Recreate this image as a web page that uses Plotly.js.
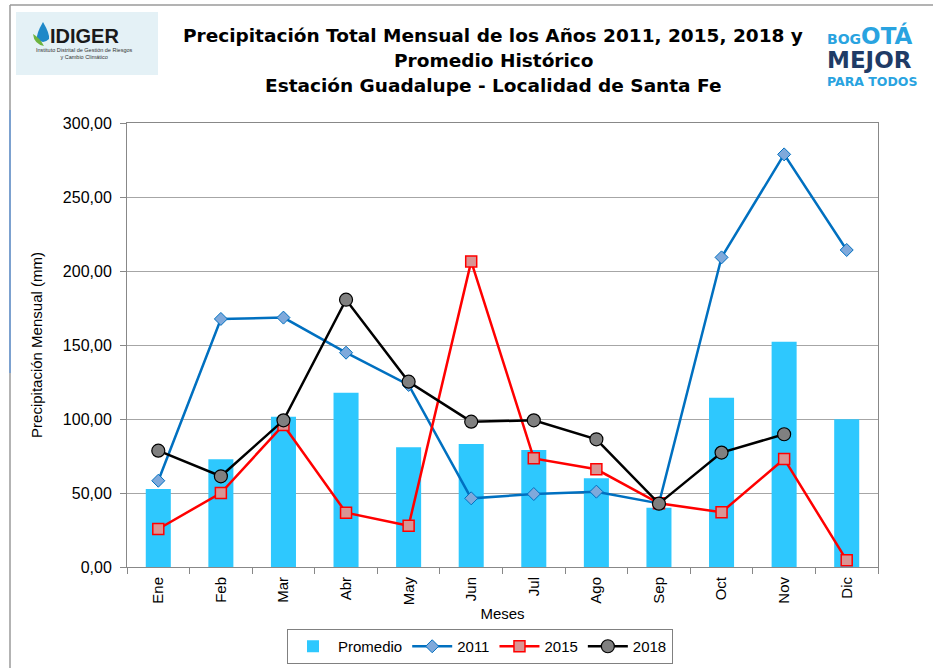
<!DOCTYPE html>
<html>
<head>
<meta charset="utf-8">
<script src="https://cdn.plot.ly/plotly-3.0.1.min.js"></script>
<style>html,body{margin:0;padding:0;background:#fff;}#chart{width:933px;height:668px;}</style>
</head>
<body>
<div id="chart"></div>
<script>
const months = ["Ene","Feb","Mar","Abr","May","Jun","Jul","Ago","Sep","Oct","Nov","Dic"];
const promedio = [52.7, 72.8, 101.6, 117.8, 80.9, 83.1, 79.1, 59.9, 40.1, 114.4, 152.2, 99.8];
const y2011 = [58.3, 167.6, 168.5, 144.8, 123.0, 46.4, 49.3, 50.9, 43.0, 209.2, 278.8, 214.2];
const y2015 = [25.7, 50.0, 96.0, 36.7, 27.9, 206.5, 73.4, 66.0, 43.0, 37.0, 73.0, 4.5];
const y2018 = [78.6, 61.3, 99.1, 180.6, 125.2, 98.2, 99.1, 86.3, 42.8, 77.3, 89.7, null];
const titleLines = [
  "Precipitación Total Mensual de los Años 2011, 2015, 2018 y",
  "Promedio Histórico",
  "Estación Guadalupe - Localidad de Santa Fe"
];

const W = 933, H = 668, L = 127, R = 878, T = 123, B = 567;
const px = v => (v - L) / (R - L);
const py = v => (B - v) / (B - T);

const traces = [
  {type:'bar', name:'Promedio', x:months, y:promedio, marker:{color:'#2EC8FE'}},
  {type:'scatter', mode:'lines+markers', name:'2011', x:months, y:y2011,
   line:{color:'#0070C0', width:2.5},
   marker:{symbol:'diamond', size:10, color:'#7FA9DB', line:{color:'#0070C0', width:1}}},
  {type:'scatter', mode:'lines+markers', name:'2015', x:months, y:y2015,
   line:{color:'#FF0000', width:2.5},
   marker:{symbol:'square', size:11, color:'#D99594', line:{color:'#FF0000', width:1.5}}},
  {type:'scatter', mode:'lines+markers', name:'2018', x:months, y:y2018,
   line:{color:'#000000', width:2.5},
   marker:{symbol:'circle', size:13, color:'#808080', line:{color:'#000000', width:1.2}}}
];

const font = 'Liberation Sans, Arial, sans-serif';
const wide = 'DejaVu Sans, sans-serif';

const titleAnn = titleLines.map((t, i) => ({
  xref:'paper', yref:'paper', x:px(493), y:py(35 + 25 * i), xanchor:'center', yanchor:'middle',
  showarrow:false, text:'<b>' + t + '</b>', font:{family:wide, size:18.5, color:'#000'}
}));

const layout = {
  width: W, height: H,
  margin: {l: L, r: W - R, t: T, b: H - B, pad: 0, autoexpand: false},
  paper_bgcolor: '#ffffff', plot_bgcolor: '#ffffff',
  separators: ',.',
  showlegend: true,
  bargap: 0.6,
  font: {family: font, size: 15, color: '#000'},
  xaxis: {
    type: 'category', range: [-0.5, 11.5], autorange: false, automargin: false,
    tickangle: -90, tickson: 'boundaries',
    ticks: 'outside', ticklen: 6, tickcolor: '#888', ticklabelstandoff: 3,
    showline: true, linecolor: '#888', linewidth: 1, mirror: true,
    showgrid: false, tickfont: {family: font, size: 15},
    title: {text: 'Meses', font: {family: font, size: 15}, standoff: 4}
  },
  yaxis: {
    range: [0, 300], autorange: false, automargin: false, dtick: 50, tickformat: '.2f',
    ticks: 'outside', ticklen: 6, tickcolor: '#888', ticklabelstandoff: 5,
    showline: true, linecolor: '#888', linewidth: 1, mirror: true,
    gridcolor: '#A6A6A6', gridwidth: 1, zeroline: false,
    tickfont: {family: font, size: 16},
    title: {text: 'Precipitación Mensual (mm)', font: {family: font, size: 15}, standoff: 16}
  },
  legend: {
    orientation: 'h', x: px(480), xanchor: 'center', y: py(629), yanchor: 'top',
    bordercolor: '#808080', borderwidth: 1, font: {family: font, size: 15},
    bgcolor: '#fff', itemwidth: 40, tracegroupgap: 0
  },
  shapes: [
    {type:'line', xref:'paper', yref:'paper', x0:px(10), x1:px(10), y0:py(5), y1:py(668), line:{color:'#9A9A9A', width:1.5}},
    {type:'line', xref:'paper', yref:'paper', x0:px(10), x1:px(10), y0:py(110), y1:py(373), line:{color:'#6A9BD8', width:1.5}},
    {type:'line', xref:'paper', yref:'paper', x0:px(10), x1:px(933), y0:py(5), y1:py(5), line:{color:'#9A9A9A', width:1.5}},
    {type:'rect', xref:'paper', yref:'paper', x0:px(16), x1:px(158), y0:py(12), y1:py(75), fillcolor:'#E4F1F6', line:{width:0}, layer:'below'},
    {type:'path', xref:'paper', yref:'paper',
     path:`M ${px(43)},${py(22)} Q ${px(36)},${py(34)} ${px(37)},${py(39)} Q ${px(43)},${py(45)} ${px(49)},${py(39)} Q ${px(50)},${py(34)} ${px(43)},${py(22)} Z`,
     fillcolor:'#1E88C8', line:{width:0}},
    {type:'path', xref:'paper', yref:'paper',
     path:`M ${px(33)},${py(34)} Q ${px(34)},${py(44)} ${px(44)},${py(46)} Q ${px(40)},${py(38)} ${px(33)},${py(34)} Z`,
     fillcolor:'#6DB33F', line:{width:0}}
  ],
  annotations: titleAnn.concat([
    {xref:'paper', yref:'paper', x:px(48), y:py(36), xanchor:'left', yanchor:'middle', showarrow:false,
     text:'<b>IDIGER</b>', font:{family:font, size:20, color:'#1A1A1A'}},
    {xref:'paper', yref:'paper', x:px(84), y:py(53), xanchor:'center', yanchor:'middle', showarrow:false,
     text:'Instituto Distrital de Gestión de Riesgos<br>y Cambio Climático', font:{family:font, size:5.5, color:'#333'}},
    {xref:'paper', yref:'paper', x:px(826), y:py(50), xanchor:'left', yanchor:'bottom', showarrow:false, borderpad:0,
     text:'<b><span style="font-size:14px">BOG</span>OTÁ</b>', font:{family:wide, size:23, color:'#29A3E0'}},
    {xref:'paper', yref:'paper', x:px(826), y:py(60), xanchor:'left', yanchor:'middle', showarrow:false, borderpad:0,
     text:'<b>MEJOR</b>', font:{family:wide, size:23, color:'#1F3B66'}},
    {xref:'paper', yref:'paper', x:px(826), y:py(82), xanchor:'left', yanchor:'middle', showarrow:false, borderpad:0,
     text:'<b>PARA TODOS</b>', font:{family:wide, size:12.5, color:'#29A3E0'}}
  ])
};

Plotly.newPlot('chart', traces, layout, {displayModeBar: false, responsive: false});
</script>
</body>
</html>
